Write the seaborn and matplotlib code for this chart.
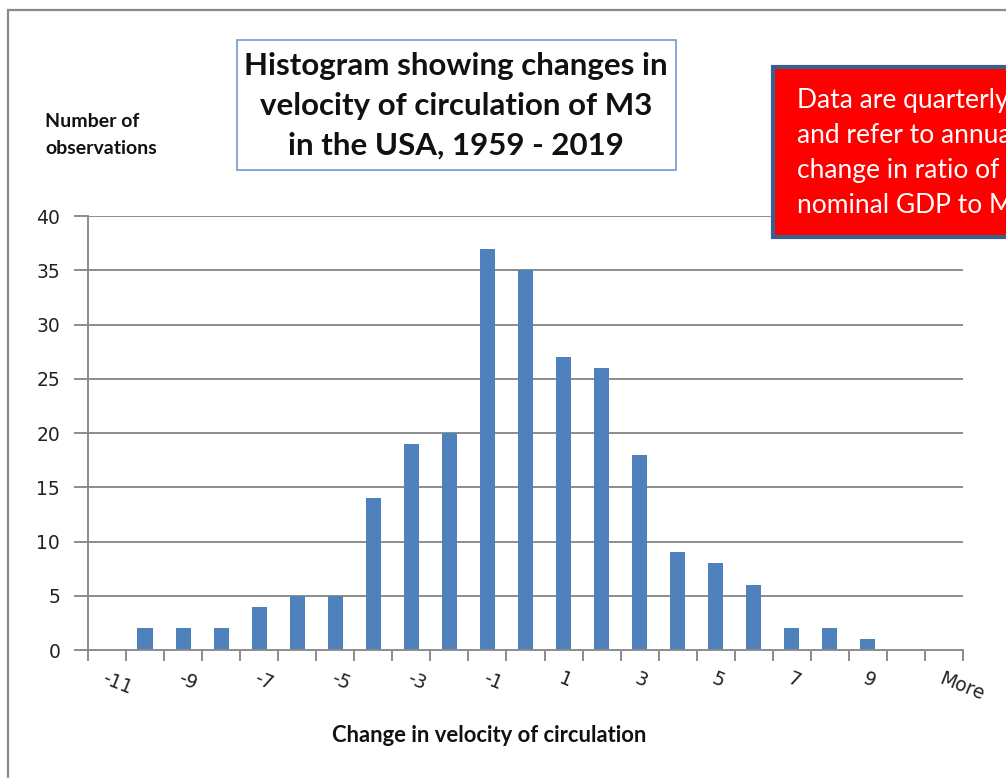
import matplotlib
matplotlib.use("Agg")
import matplotlib.pyplot as plt
import pandas as pd
import seaborn as sns
from matplotlib.patches import Rectangle

# Histogram bins (upper bin edge) and quarterly observation counts
bins = ["-11", "-10", "-9", "-8", "-7", "-6", "-5", "-4", "-3", "-2", "-1",
        "0", "1", "2", "3", "4", "5", "6", "7", "8", "9", "10", "More"]
counts = [0, 2, 2, 2, 4, 5, 5, 14, 19, 20, 37, 35, 27, 26, 18, 9, 8, 6,
          2, 2, 1, 0, 0]
y_ticks = [0, 5, 10, 15, 20, 25, 30, 35, 40]

title = "Histogram showing changes in\nvelocity of circulation of M3\nin the USA, 1959 - 2019"
note = "Data are quarterly\nand refer to annual\nchange in ratio of\nnominal GDP to M3"
x_label = "Change in velocity of circulation"
y_label = "Number of\nobservations"

sns.set_theme(style="white")
plt.rcParams["font.family"] = ["DejaVu Sans"]

W, H = 1006, 778
fig = plt.figure(figsize=(W / 100, H / 100), dpi=100)

def fx(px):
    return px / W

def fy(py):
    return 1 - py / H

ax = fig.add_axes([fx(88), fy(650), fx(963) - fx(88), fy(216) - fy(650)])

df = pd.DataFrame({"bin": bins, "count": counts})
sns.barplot(data=df, x="bin", y="count", order=bins, color="#4F81BD",
            width=0.4, saturation=1, ax=ax, edgecolor="none")

grid_c = "#8C8C8C"
ax.set_xlim(-0.5, len(bins) - 0.5)
ax.set_ylim(0, 40)
ax.set_yticks(y_ticks)
ax.set_yticklabels([str(v) for v in y_ticks], fontsize=13.5, color="#222222")
for v in y_ticks[1:]:
    ax.axhline(v, color=grid_c, lw=1.4, zorder=0)

# Ticks on the bin boundaries, labels on every other bin centre
ax.set_xticks([i - 0.5 for i in range(len(bins) + 1)])
ax.set_xticklabels([])
ax.set_xticks(range(len(bins)), minor=True)
ax.set_xticklabels([b if i % 2 == 0 else "" for i, b in enumerate(bins)],
                   minor=True, rotation=-22, ha="left", va="top",
                   rotation_mode="anchor", fontsize=13.5, color="#222222")
ax.tick_params(axis="x", which="major", direction="out", length=8,
               width=1.4, color=grid_c, bottom=True)
ax.tick_params(axis="x", which="minor", length=0, pad=14)
ax.tick_params(axis="y", direction="out", length=10, width=1.4,
               color=grid_c, left=True, pad=10)
ax.set_xlabel("")
ax.set_ylabel("")
for s in ["top", "right"]:
    ax.spines[s].set_visible(False)
for s in ["left", "bottom"]:
    ax.spines[s].set_color(grid_c)
    ax.spines[s].set_linewidth(1.4)

# Outer chart frame
fig.patches.append(Rectangle((fx(8), fy(790)), fx(1030) - fx(8), fy(10) - fy(790),
                             transform=fig.transFigure, fill=False,
                             edgecolor="#8A8A8A", lw=1.6, zorder=0))

# Title box
fig.patches.append(Rectangle((fx(237), fy(170)), fx(676) - fx(237), fy(40) - fy(170),
                             transform=fig.transFigure, fill=False,
                             edgecolor="#6F9AD0", lw=1.2))
fig.text(fx(456), fy(106), title, ha="center", va="center", fontsize=22.5,
         fontweight="bold", family="Lato", linespacing=1.5, color="#111111")

# Note box
fig.patches.append(Rectangle((fx(773), fy(237)), fx(1040) - fx(773), fy(67) - fy(237),
                             transform=fig.transFigure, facecolor="#FF0000",
                             edgecolor="#3A5F8C", lw=3.0))
fig.text(fx(797), fy(88), note, ha="left", va="top", fontsize=19,
         family="Lato", linespacing=1.5, color="white")

fig.text(fx(45), fy(135), y_label, ha="left", va="center", fontsize=14,
         fontweight="bold", family="Lato", linespacing=1.75, color="#111111")
fig.text(fx(489), fy(736), x_label, ha="center", va="center", fontsize=15.8,
         fontweight="bold", family="Lato", color="#111111")

fig.savefig("out.png", dpi=100)
